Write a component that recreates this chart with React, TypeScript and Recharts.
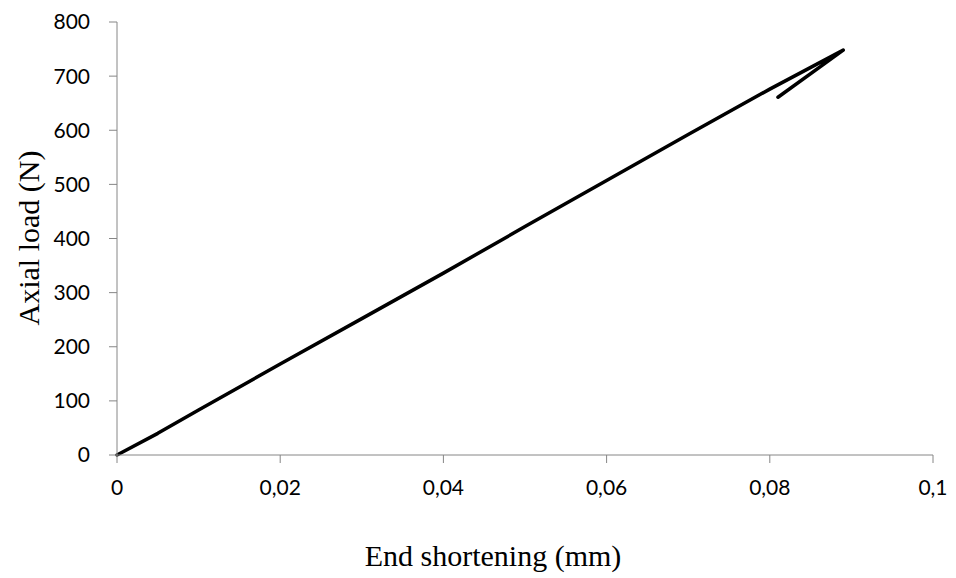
import { LineChart, Line, XAxis, YAxis, Label } from 'recharts'

// end shortening (mm) and axial load (N), in test order (loading then the unloading hook)
const shortening = [0, 0.005, 0.01, 0.02, 0.03, 0.04, 0.05, 0.06, 0.07, 0.08, 0.089, 0.081]
const load = [0, 40, 83, 168, 252, 336, 422, 507, 592, 676, 748, 661]

const xTicks = [0, 0.02, 0.04, 0.06, 0.08, 0.1]
const yTicks = [0, 100, 200, 300, 400, 500, 600, 700, 800]

const data = shortening.map((x, i) => ({ x, y: load[i] }))

const axisColor = '#868686'
const tickFont = { fontSize: 21, fill: '#000', fontFamily: 'Lato, "Open Sans", sans-serif' }
const titleFont = '"Liberation Serif", "DejaVu Serif", serif'

const formatComma = (v: number) => String(v).replace('.', ',')

const XTitle = () => (
  <text x={493} y={566} textAnchor="middle" fontSize={30} fontFamily={titleFont} fill="#000">
    End shortening (mm)
  </text>
)

const YTitle = () => (
  <text
    x={0}
    y={0}
    transform="translate(28, 238) rotate(-90)"
    textAnchor="middle"
    dominantBaseline="central"
    fontSize={30}
    fontFamily={titleFont}
    fill="#000"
  >
    Axial load (N)
  </text>
)

export default function App() {
  return (
    <div style={{ position: 'absolute', left: 0, top: 0, background: '#fff' }}>
      <LineChart width={956} height={578} data={data} margin={{ top: 22, right: 23, left: 0, bottom: 63 }}>
        <XAxis
          dataKey="x"
          type="number"
          domain={[0, 0.1]}
          ticks={xTicks}
          tickFormatter={formatComma}
          tick={tickFont}
          tickSize={8}
          tickMargin={17}
          stroke={axisColor}
          height={60}
          interval={0}
        >
          <Label content={<XTitle />} />
        </XAxis>
        <YAxis
          dataKey="y"
          type="number"
          domain={[0, 800]}
          ticks={yTicks}
          tick={tickFont}
          tickSize={8}
          tickMargin={19}
          stroke={axisColor}
          width={117}
          interval={0}
        >
          <Label content={<YTitle />} />
        </YAxis>
        <Line
          dataKey="y"
          type="linear"
          stroke="#000"
          strokeWidth={3.5}
          strokeLinejoin="round"
          strokeLinecap="round"
          dot={false}
          isAnimationActive={false}
        />
      </LineChart>
    </div>
  )
}
